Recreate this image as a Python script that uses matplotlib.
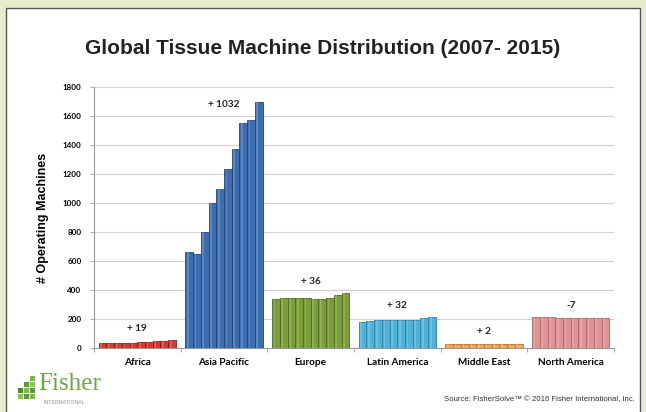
import matplotlib
matplotlib.use("Agg")
import numpy as np
import matplotlib.pyplot as plt
from matplotlib.patches import Rectangle

# machines in operation per region, one value per year
regions = ["Africa", "Asia Pacific", "Europe", "Latin America", "Middle East", "North America"]
africa = [33, 34, 35, 37, 38, 40, 43, 46, 49, 52]
asia_pacific = [665, 650, 800, 1000, 1100, 1235, 1370, 1555, 1575, 1697]
europe = [340, 346, 346, 346, 346, 340, 340, 342, 366, 376]
latin_america = [180, 186, 190, 191, 191, 191, 191, 192, 208, 212]
middle_east = [28, 28, 29, 29, 29, 30, 30, 30, 30, 30]
north_america = [212, 212, 211, 210, 210, 209, 208, 207, 206, 205]
yticks = [0, 200, 400, 600, 800, 1000, 1200, 1400, 1600, 1800]

series = [africa, asia_pacific, europe, latin_america, middle_east, north_america]
colors = ["#d23a2e", "#3b6db0", "#7a9e38", "#4fb3d9", "#f2a553", "#e09394"]
edges = ["#8e1f18", "#22457a", "#4f6a20", "#2a7ea3", "#b9752d", "#b06264"]

fig = plt.figure(figsize=(6.46, 4.12), dpi=100)
fig.patch.set_facecolor("#e7edcb")
fig.patches.append(Rectangle((6 / 646, -0.01), 634 / 646, 404 / 412 + 0.01,
                             transform=fig.transFigure, facecolor="white",
                             edgecolor="#555555", linewidth=1.0, zorder=-1))

ax = fig.add_axes([0.1455, 0.1553, 0.805, 0.6335])
ax.set_zorder(1)
ax.set_facecolor("none")

group_w = 0.89
for i, vals in enumerate(series):
    n = len(vals)
    w = group_w / n
    xs = i - group_w / 2 + w * (np.arange(n) + 0.5)
    ax.bar(xs, vals, width=w, color=colors[i], edgecolor=edges[i], linewidth=0.6, zorder=3)
    # lighter stripe on each bar for a bit of depth
    ax.bar(xs - w * 0.18, vals, width=w * 0.22, color="white", alpha=0.18, linewidth=0, zorder=4)
    change = vals[-1] - vals[0]
    label = f"+ {change}" if change >= 0 else f"{change}"
    ax.text(i, min(max(vals) + 50, 1650), label, ha="center", va="bottom",
            fontsize=7.2, fontweight="bold", family="Lato", color="#222222")

ax.set_xlim(-0.5, len(regions) - 0.5)
ax.set_ylim(0, 1800)
ax.set_yticks(yticks)
ax.set_yticklabels([str(v) for v in yticks], fontsize=5.8, fontweight="bold", family="Lato")
ax.set_xticks(range(len(regions)))
ax.set_xticklabels(regions, fontsize=7.2, fontweight="bold", family="Lato")
ax.tick_params(axis="x", length=0, pad=7)
ax.tick_params(axis="y", length=3, width=0.6, color="#999999", pad=6)
ax.set_xticks(np.arange(len(regions) + 1) - 0.5, minor=True)
ax.tick_params(axis="x", which="minor", length=3, width=0.6, color="#999999")

ax.grid(axis="y", color="#d8cfca", linewidth=0.8, zorder=0)
for s in ["top", "right"]:
    ax.spines[s].set_visible(False)
for s in ["left", "bottom"]:
    ax.spines[s].set_color("#999999")
    ax.spines[s].set_linewidth(0.8)

ax.set_ylabel("# Operating Machines", fontsize=9, fontweight="bold",
              family="Liberation Sans", labelpad=10)

fig.text(0.5, 0.883, "Global Tissue Machine Distribution (2007- 2015)",
         ha="center", va="center", fontsize=15, fontweight="bold",
         family="Liberation Sans", color="#222222")

fig.text(635 / 646, 1 - 400 / 412, "Source: FisherSolve\u2122 \u00a9 2016 Fisher International, Inc.",
         ha="right", va="center", fontsize=5.6, family="Liberation Sans", color="#333333")

# company logo, lower left
fig.text(38 / 646, 1 - 384 / 412, "Fisher", ha="left", va="center", fontsize=18,
         family="Liberation Serif", color="#6aa842")
fig.text(43 / 646, 1 - 403 / 412, "INTERNATIONAL", ha="left", va="center", fontsize=3.8,
         family="Liberation Sans", color="#8a9a80")
blocks = [(30, 376, "#7cb84e"), (24, 382, "#5e9a3a"), (30, 382, "#8cc35c"),
          (18, 388, "#4a8a2e"), (24, 388, "#7cb84e"), (30, 388, "#5e9a3a"),
          (18, 394, "#8cc35c"), (24, 394, "#5e9a3a"), (30, 394, "#7cb84e")]
for bx, by, bc in blocks:
    fig.patches.append(Rectangle((bx / 646, 1 - (by + 5) / 412), 5 / 646, 5 / 412,
                                 transform=fig.transFigure, facecolor=bc,
                                 edgecolor="none", zorder=2))

fig.savefig("out.png", dpi=100, facecolor=fig.get_facecolor())
